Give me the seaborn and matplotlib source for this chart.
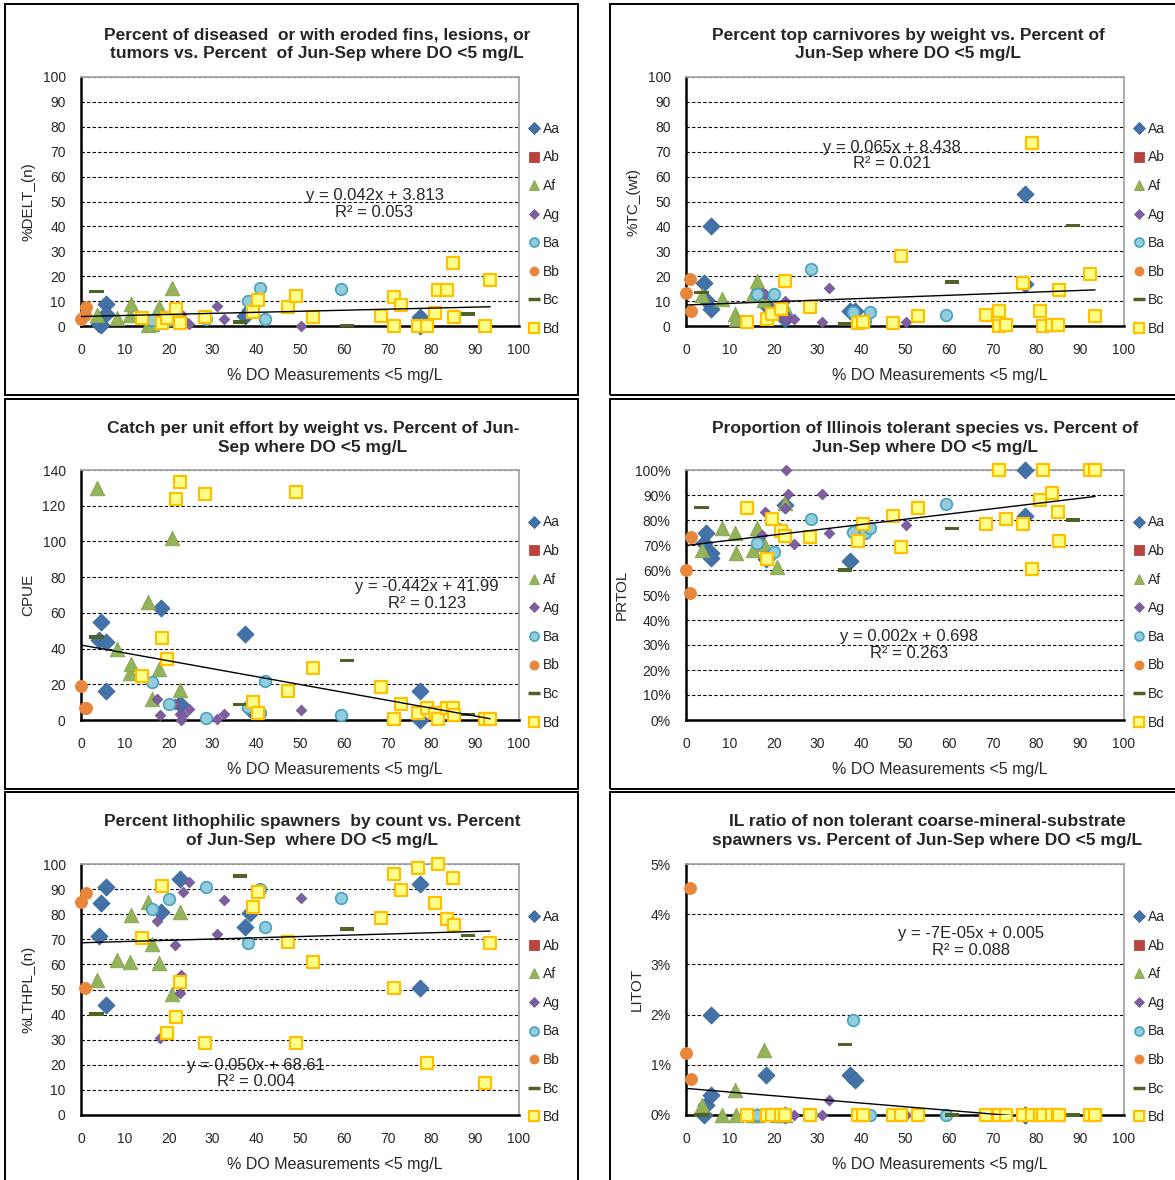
import numpy as np
import matplotlib
matplotlib.use("Agg")
import matplotlib.pyplot as plt
import seaborn as sns
from matplotlib.lines import Line2D
from matplotlib.patches import Rectangle
from matplotlib.ticker import PercentFormatter

sns.set_style("white")
plt.rcParams["font.family"] = ["Liberation Sans", "DejaVu Sans"]

groups = ["Aa", "Ab", "Af", "Ag", "Ba", "Bb", "Bc", "Bd"]

# % of Jun-Sep DO measurements < 5 mg/L at each site (group Ab has no sites)
x_do = {
    "Aa": [4.0, 4.6, 5.6, 5.6, 18.3, 22.6, 37.4, 38.6, 77.4, 77.4],
    "Ab": [],
    "Af": [3.6, 8.3, 11.2, 11.4, 15.4, 16.1, 17.7, 20.8, 22.6],
    "Ag": [17.3, 18.1, 21.5, 22.6, 22.8, 23.4, 24.7, 31.1, 32.7, 50.2],
    "Ba": [16.2, 20.0, 28.5, 38.2, 40.9, 42.1, 59.3],
    "Bb": [0.0, 0.8, 1.1],
    "Bc": [3.6, 36.3, 60.7, 88.4],
    "Bd": [13.9, 18.5, 19.6, 21.8, 22.5, 28.2, 39.3, 40.3, 47.3, 49.1, 52.9, 68.4,
           71.5, 71.5, 73.0, 76.9, 78.9, 80.8, 81.6, 83.6, 85.0, 85.2, 92.2, 93.4],
}

delt = {
    "Aa": [1, 0.5, 8.7, 4.8, 3, 2, 4, 6.5, 3.5, 0],
    "Ab": [],
    "Af": [4.4, 3.3, 4.4, 8.7, 0.5, 1, 7.7, 15.3, 3],
    "Ag": [2, 3, 3, 4, 5, 3, 1, 8, 3, 0],
    "Ba": [2.4, 2.5, 3, 10, 15.3, 3, 14.8],
    "Bb": [3, 4.5, 7.7],
    "Bc": [14, 1.6, 0.2, 4.8],
    "Bd": [3.3, 1.3, 3.3, 6.7, 1.3, 3.7, 5.7, 10.4, 7.5, 12.1, 3.5, 4, 0.2, 11.7,
           8.4, 0.2, 0.2, 5.1, 14.6, 14.6, 25.4, 3.5, 0.2, 18.6],
}

tc = {
    "Aa": [17.3, 10.4, 40, 7, 8.4, 3, 6, 6, 53, 17],
    "Ab": [],
    "Af": [12.4, 11, 5, 3, 13, 18, 10.6, 7.5, 7.7],
    "Ag": [13.4, 13, 4, 10, 3, 3.7, 3, 1.5, 15.4, 1.5],
    "Ba": [13, 13, 22.8, 5.5, 2, 5.5, 4.4],
    "Bb": [13.3, 19, 6.1],
    "Bc": [13.3, 0.8, 17.7, 40.3],
    "Bd": [1.7, 2.8, 4.8, 6.7, 18.1, 7.7, 1.1, 1.7, 1.3, 28.1, 4, 4.4, 6, 0.1,
           0.4, 17.3, 73.6, 6, 0.1, 0.4, 0.4, 14.6, 21, 4.1],
}

cpue = {
    "Aa": [45, 55, 43.6, 16, 63, 8.7, 48.4, 6.3, 16, 0],
    "Ab": [],
    "Af": [130, 39.5, 26.4, 31.6, 65.9, 11.5, 28.7, 102, 16.6],
    "Ag": [11.5, 2.6, 8.7, 3.2, 0, 2.6, 6.3, 0.7, 3.2, 5.6],
    "Ba": [21.2, 9.1, 1.1, 7.4, 4.1, 21.8, 3],
    "Bb": [19, 6.9, 6.9],
    "Bc": [46.5, 8.7, 33.5, 3.2],
    "Bd": [24.9, 46, 33.9, 123.8, 133.5, 126.6, 10, 3.7, 16.2, 127.5, 28.9, 18.6,
           0.7, 0.5, 8.7, 4.1, 6.9, 3.7, 0.7, 6.9, 6.9, 2.6, 0.7, 0.7],
}

prtol = {
    "Aa": [0.71, 0.75, 0.67, 0.65, 0.645, 0.86, 0.636, 0.75, 1.00, 0.817],
    "Ab": [],
    "Af": [0.68, 0.77, 0.747, 0.667, 0.68, 0.767, 0.703, 0.613, 0.87],
    "Ag": [0.74, 0.833, 0.77, 0.85, 1.00, 0.903, 0.703, 0.903, 0.75, 0.78],
    "Ba": [0.707, 0.673, 0.804, 0.753, 0.75, 0.77, 0.863],
    "Bb": [0.60, 0.507, 0.733],
    "Bc": [0.85, 0.60, 0.767, 0.80],
    "Bd": [0.85, 0.644, 0.804, 0.756, 0.737, 0.733, 0.716, 0.783, 0.817, 0.693, 0.85,
           0.783, 1.00, 1.00, 0.804, 0.783, 0.604, 0.88, 1.00, 0.907, 0.833, 0.716,
           1.00, 1.00],
}

lthpl = {
    "Aa": [71.4, 84.3, 91, 44, 81, 94.2, 75, 80.3, 91.9, 50.5],
    "Ab": [],
    "Af": [53.8, 61.8, 61, 79.7, 85, 68, 60.4, 48.2, 81],
    "Ag": [77.4, 30.5, 67.7, 48.7, 55.8, 89, 92.7, 72.1, 85.7, 86.6],
    "Ba": [82, 85.9, 91, 68.4, 90, 75, 86.3],
    "Bb": [85, 50.7, 88.3],
    "Bc": [40.2, 95.2, 74.1, 71.4],
    "Bd": [70.4, 91.4, 32.5, 38.9, 52.9, 28.8, 83, 89, 69.1, 28.8, 61.1, 78.4, 96,
           50.7, 89.6, 98.3, 20.6, 84.3, 100, 78, 94.3, 75.7, 12.9, 68.4],
}

litot = {
    "Aa": [0, 0.002, 0.020, 0.004, 0.008, 0, 0.008, 0.007, 0, 0],
    "Ab": [],
    "Af": [0.002, 0, 0.005, 0, 0, 0, 0.013, 0, 0],
    "Ag": [0, 0, 0, 0, 0, 0, 0, 0, 0.003, 0],
    "Ba": [0, 0, 0, 0.019, 0, 0, 0],
    "Bb": [0.0123, 0.0453, 0.0071],
    "Bc": [0, 0.014, 0, 0],
    "Bd": [0] * 24,
}

# trendline (slope, intercept) and the printed equation
fits = [(0.042, 3.813), (0.065, 8.438), (-0.442, 41.99),
        (0.0021, 0.698), (0.050, 68.61), (-0.000073, 0.0053)]
eq_text = ["y = 0.042x + 3.813\nR² = 0.053", "y = 0.065x + 8.438\nR² = 0.021",
           "y = -0.442x + 41.99\nR² = 0.123", "y = 0.002x + 0.698\nR² = 0.263",
           "y = 0.050x + 68.61\nR² = 0.004", "y = -7E-05x + 0.005\nR² = 0.088"]
eq_pos = [(67, 49), (47, 68.5), (79, 70), (51, 0.30), (40, 16.5), (65, 0.0345)]

titles = [
    "Percent of diseased  or with eroded fins, lesions, or\ntumors vs. Percent  of Jun-Sep where DO <5 mg/L",
    "Percent top carnivores by weight vs. Percent of\nJun-Sep where DO <5 mg/L",
    "Catch per unit effort by weight vs. Percent of Jun-\nSep where DO <5 mg/L",
    "Proportion of Illinois tolerant species vs. Percent of\nJun-Sep where DO <5 mg/L",
    "Percent lithophilic spawners  by count vs. Percent\nof Jun-Sep  where DO <5 mg/L",
    "IL ratio of non tolerant coarse-mineral-substrate\nspawners vs. Percent of Jun-Sep where DO <5 mg/L",
]
ylabels = ["%DELT_(n)", "%TC_(wt)", "CPUE", "PRTOL", "%LTHPL_(n)", "LITOT"]
panels = [delt, tc, cpue, prtol, lthpl, litot]
ylims = [(0, 100, 10), (0, 100, 10), (0, 140, 20), (0, 1, 0.1), (0, 100, 10), (0, 0.05, 0.01)]

dash = [(-1, -0.22), (1, -0.22), (1, 0.22), (-1, 0.22)]
style = {
    "Aa": dict(marker="D", s=75, color="#4372A8", edgecolor="#3A659A", linewidth=0.6),
    "Ab": dict(marker="s", s=50, color="#B8433F", edgecolor="#B8433F", linewidth=0.6),
    "Af": dict(marker="^", s=110, color="#94B35A", edgecolor="#86A34C", linewidth=0.6),
    "Ag": dict(marker="D", s=30, color="#7D5FA0", edgecolor="#6E5290", linewidth=0.5),
    "Ba": dict(marker="o", s=70, color="#93CDDD", edgecolor="#46A3BD", linewidth=1.2),
    "Bb": dict(marker="o", s=75, color="#E8873C", edgecolor="#E8873C", linewidth=0.6),
    "Bc": dict(marker=dash, s=110, color="#4F6228", edgecolor="none", linewidth=0),
    "Bd": dict(marker="s", s=66, color="#FFFF8A", edgecolor="#FFC000", linewidth=1.6),
}

W, H = 1175, 1180
fig = plt.figure(figsize=(W / 100, H / 100), dpi=100)

col_left = [81, 686]
row_top = [77, 470, 864]
row_bot = [326, 720, 1115]
title_x = [317, 908, 313, 925, 312, 927]
title_y = [44.5, 438, 831]
box_x = [(5, 578), (610, 1181)]
box_y = [(4, 395), (399, 789), (792, 1186)]

for r in range(3):
    for c in range(2):
        x0, x1 = box_x[c]
        y0, y1 = box_y[r]
        fig.patches.append(Rectangle((x0 / W, 1 - y1 / H), (x1 - x0) / W, (y1 - y0) / H,
                                     transform=fig.transFigure, fill=False,
                                     edgecolor="black", linewidth=1.4))

for i, data in enumerate(panels):
    r, c = divmod(i, 2)
    ax = fig.add_axes([col_left[c] / W, 1 - row_bot[r] / H, 438 / W,
                       (row_bot[r] - row_top[r]) / H])
    for g in groups:
        if len(data[g]) == 0:
            continue
        sns.scatterplot(x=x_do[g], y=data[g], ax=ax, clip_on=False, zorder=3,
                        legend=False, **style[g])

    slope, icpt = fits[i]
    all_x = np.concatenate([np.asarray(x_do[g], float) for g in groups])
    xs = np.array([all_x.min(), all_x.max()])
    ax.plot(xs, slope * xs + icpt, color="black", lw=1.0, zorder=4)
    ax.text(*eq_pos[i], eq_text[i], ha="center", va="center", fontsize=12,
            linespacing=1.15, zorder=5)

    lo, hi, step = ylims[i]
    ax.set_xlim(0, 100)
    ax.set_ylim(lo, hi)
    ax.set_xticks(np.arange(0, 101, 10))
    ax.set_yticks(np.linspace(lo, hi, int(round((hi - lo) / step)) + 1))
    if i in (3, 5):
        ax.yaxis.set_major_formatter(PercentFormatter(1.0, decimals=0))
    ax.yaxis.grid(True, linestyle=(0, (3, 2)), color="black", lw=0.8)
    ax.set_axisbelow(True)
    for side in ["left", "bottom"]:
        ax.spines[side].set_color("black")
        ax.spines[side].set_linewidth(1.8)
    for side in ["top", "right"]:
        ax.spines[side].set_color("#A6A6A6")
        ax.spines[side].set_linewidth(1.3)
    ax.tick_params(axis="both", direction="out", length=3, width=1, color="black",
                   labelsize=10)
    ax.tick_params(axis="y", pad=8)
    ax.tick_params(axis="x", pad=9)
    ax.set_xlabel("% DO Measurements <5 mg/L", fontsize=11.5, labelpad=8, x=0.58)
    ax.set_ylabel(ylabels[i], fontsize=11, labelpad=5)

    handles = []
    for g in groups:
        st = style[g]
        if g == "Bc":
            h = Line2D([], [], marker="_", linestyle="none", color=st["color"],
                       markersize=9, markeredgewidth=2.5)
        else:
            h = Line2D([], [], marker=st["marker"], linestyle="none",
                       markerfacecolor=st["color"], markeredgecolor=st["edgecolor"],
                       markeredgewidth=st["linewidth"], markersize=6.5 if g != "Ag" else 5.5)
        handles.append(h)
    ax.legend(handles, groups, loc="center left", bbox_to_anchor=(1.0, 0.39),
              frameon=False, fontsize=10, labelspacing=1.05, handlelength=0.7,
              handletextpad=0.3, borderaxespad=0.3)

    fig.text(title_x[i] / W, 1 - title_y[r] / H, titles[i], ha="center", va="center",
             fontsize=12.5, fontweight="bold", linespacing=1.3)

fig.savefig("out.png", dpi=100)
